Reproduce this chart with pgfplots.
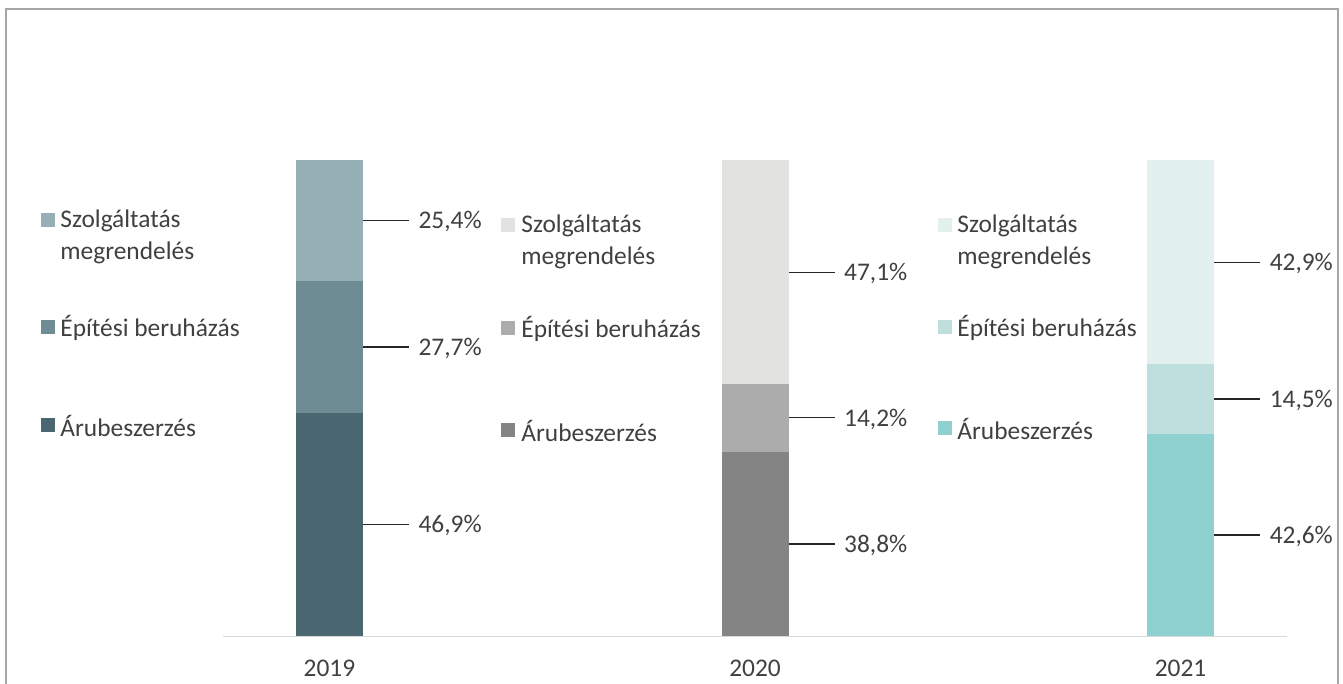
\documentclass[border=0pt]{standalone}
\usepackage{pgfplots}
\pgfplotsset{compat=1.18}
\usepackage{fontspec}
\setmainfont{Carlito}
\definecolor{txt}{HTML}{404040}
\definecolor{aT}{HTML}{96AFB5}
\definecolor{aM}{HTML}{6E8C93}
\definecolor{aB}{HTML}{4A6670}
\definecolor{bT}{HTML}{E2E2E0}
\definecolor{bM}{HTML}{ABACAB}
\definecolor{bB}{HTML}{838483}
\definecolor{cT}{HTML}{E2F0EE}
\definecolor{cM}{HTML}{BFDFDE}
\definecolor{cB}{HTML}{8FD0D0}
\definecolor{axl}{HTML}{D9D9D9}
\definecolor{frm}{HTML}{A6A6A6}
\begin{document}
\begin{tikzpicture}[font=\fontsize{12.7}{15.5}\selectfont]
\useasboundingbox (-111.5pt,318.25pt) rectangle (560pt,-23.75pt);
\begin{axis}[
  at={(0,0)}, anchor=south west,
  scale only axis, width=532pt, height=238.25pt,
  xmin=-0.25, xmax=2.25, ymin=0, ymax=100,
  ybar stacked, bar width=33.5pt,
  axis x line=bottom, axis y line=none,
  x axis line style={draw=axl, line width=0.9pt, -},
  xtick={0,1,2}, xticklabels={2019,2020,2021},
  major tick length=0pt,
  xticklabel style={text=txt, inner sep=0pt, anchor=north, yshift=-11.5pt},
  ytick=\empty,
  clip=false,
  every axis plot/.append style={draw=none},
]
% 2019
\addplot[fill=aB] coordinates {(0,46.9) (1,0) (2,0)};
\addplot[fill=aM] coordinates {(0,27.7) (1,0) (2,0)};
\addplot[fill=aT] coordinates {(0,25.4) (1,0) (2,0)};
% 2020
\addplot[fill=bB] coordinates {(0,0) (1,38.8) (2,0)};
\addplot[fill=bM] coordinates {(0,0) (1,14.2) (2,0)};
\addplot[fill=bT] coordinates {(0,0) (1,47.1) (2,0)};
% 2021
\addplot[fill=cB] coordinates {(0,0) (1,0) (2,42.6)};
\addplot[fill=cM] coordinates {(0,0) (1,0) (2,14.5)};
\addplot[fill=cT] coordinates {(0,0) (1,0) (2,42.9)};
% value labels with leader lines
\foreach \xx/\yy/\lab in {0/23.45/46{,}9\%, 0/60.75/27{,}7\%, 0/87.3/25{,}4\%,
                          1/19.4/38{,}8\%, 1/45.9/14{,}2\%, 1/76.45/47{,}1\%,
                          2/21.3/42{,}6\%, 2/49.85/14{,}5\%, 2/78.55/42{,}9\%}{
  \edef\temp{\noexpand\draw[black!85, line width=0.65pt] ([xshift=16.75pt]axis cs:\xx,\yy) -- ([xshift=39.75pt]axis cs:\xx,\yy)
     node[anchor=west, inner sep=0pt, xshift=4.5pt, yshift=-0.6pt, text=txt] {\lab};}
  \temp
}
\end{axis}
\begin{scope}[shift={(-111.5pt,318.25pt)}, x=0.5pt, y=-0.5pt,
  every node/.style={anchor=west, inner sep=0pt, text=txt, yshift=-0.6pt}]
  \draw[frm, line width=1pt] (6,700) -- (6,9) -- (1338,9) -- (1338,700);
  % legend 2019
  \fill[aT] (41,213) rectangle (55,227);
  \fill[aM] (41,320) rectangle (55,334);
  \fill[aB] (41,418) rectangle (55,432);
  \node at (60,220) {Szolgáltatás};
  \node at (60,252) {megrendelés};
  \node at (60,327) {Építési beruházás};
  \node at (60,425) {Árubeszerzés};
  % legend 2020
  \fill[bT] (501,218) rectangle (515,232);
  \fill[bM] (501,321) rectangle (515,335);
  \fill[bB] (501,423) rectangle (515,437);
  \node at (521,225) {Szolgáltatás};
  \node at (521,257) {megrendelés};
  \node at (521,328) {Építési beruházás};
  \node at (521,430) {Árubeszerzés};
  % legend 2021
  \fill[cT] (938,218) rectangle (952,232);
  \fill[cM] (938,320) rectangle (952,334);
  \fill[cB] (938,421) rectangle (952,435);
  \node at (957,225) {Szolgáltatás};
  \node at (957,257) {megrendelés};
  \node at (957,327) {Építési beruházás};
  \node at (957,428) {Árubeszerzés};
\end{scope}
\end{tikzpicture}
\end{document}
